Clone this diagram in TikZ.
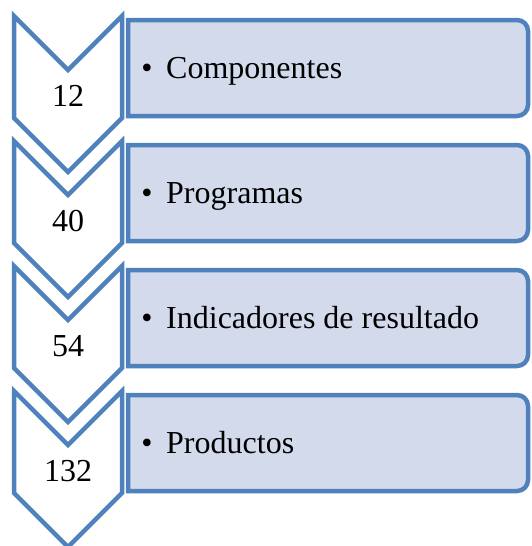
\documentclass[tikz,border=0pt]{standalone}
\usepackage{fontspec}
\setmainfont{Liberation Serif}
\definecolor{chevblue}{RGB}{79,129,189}
\definecolor{boxfill}{RGB}{211,218,235}
\tikzset{
  chev/.style={draw=chevblue, fill=white, line width=4.5pt, miter limit=10},
  tbox/.style={draw=chevblue, fill=boxfill, line width=4.5pt},
  txt/.style={inner sep=0pt, anchor=base west, font=\fontsize{32}{38}\selectfont},
  bul/.style={inner sep=0pt, anchor=base, font=\fontsize{32}{38}\selectfont},
  num/.style={inner sep=0pt, anchor=base, font=\fontsize{32}{38}\selectfont}
}
\begin{document}
\begin{tikzpicture}[x=1pt,y=-1pt]
\useasboundingbox (0,0) rectangle (532,546);
\fill[white] (0,0) rectangle (532,546);
\clip (0,0) rectangle (532,546);
\foreach \i/\n/\t in {0/12/Componentes,1/40/Programas,2/54/Indicadores de resultado,3/132/Productos}{
  \begin{scope}[yshift={-125*\i pt}]
    \draw[tbox] (128,20) -- (517,20) arc[start angle=-90,end angle=0,radius=11]
      -- (528,105) arc[start angle=0,end angle=90,radius=11] -- (128,116) -- cycle;
    \draw[chev] (14,16) -- (68,70) -- (122,16) -- (122,118) -- (68,172) -- (14,118) -- cycle;
    \node[num] (num\i) at (68,106) {\n};
    \node[bul] (bul\i) at (147,78) {•};
    \node[txt] (txt\i) at (166,78) {\t};
  \end{scope}
}
\end{tikzpicture}
\end{document}
